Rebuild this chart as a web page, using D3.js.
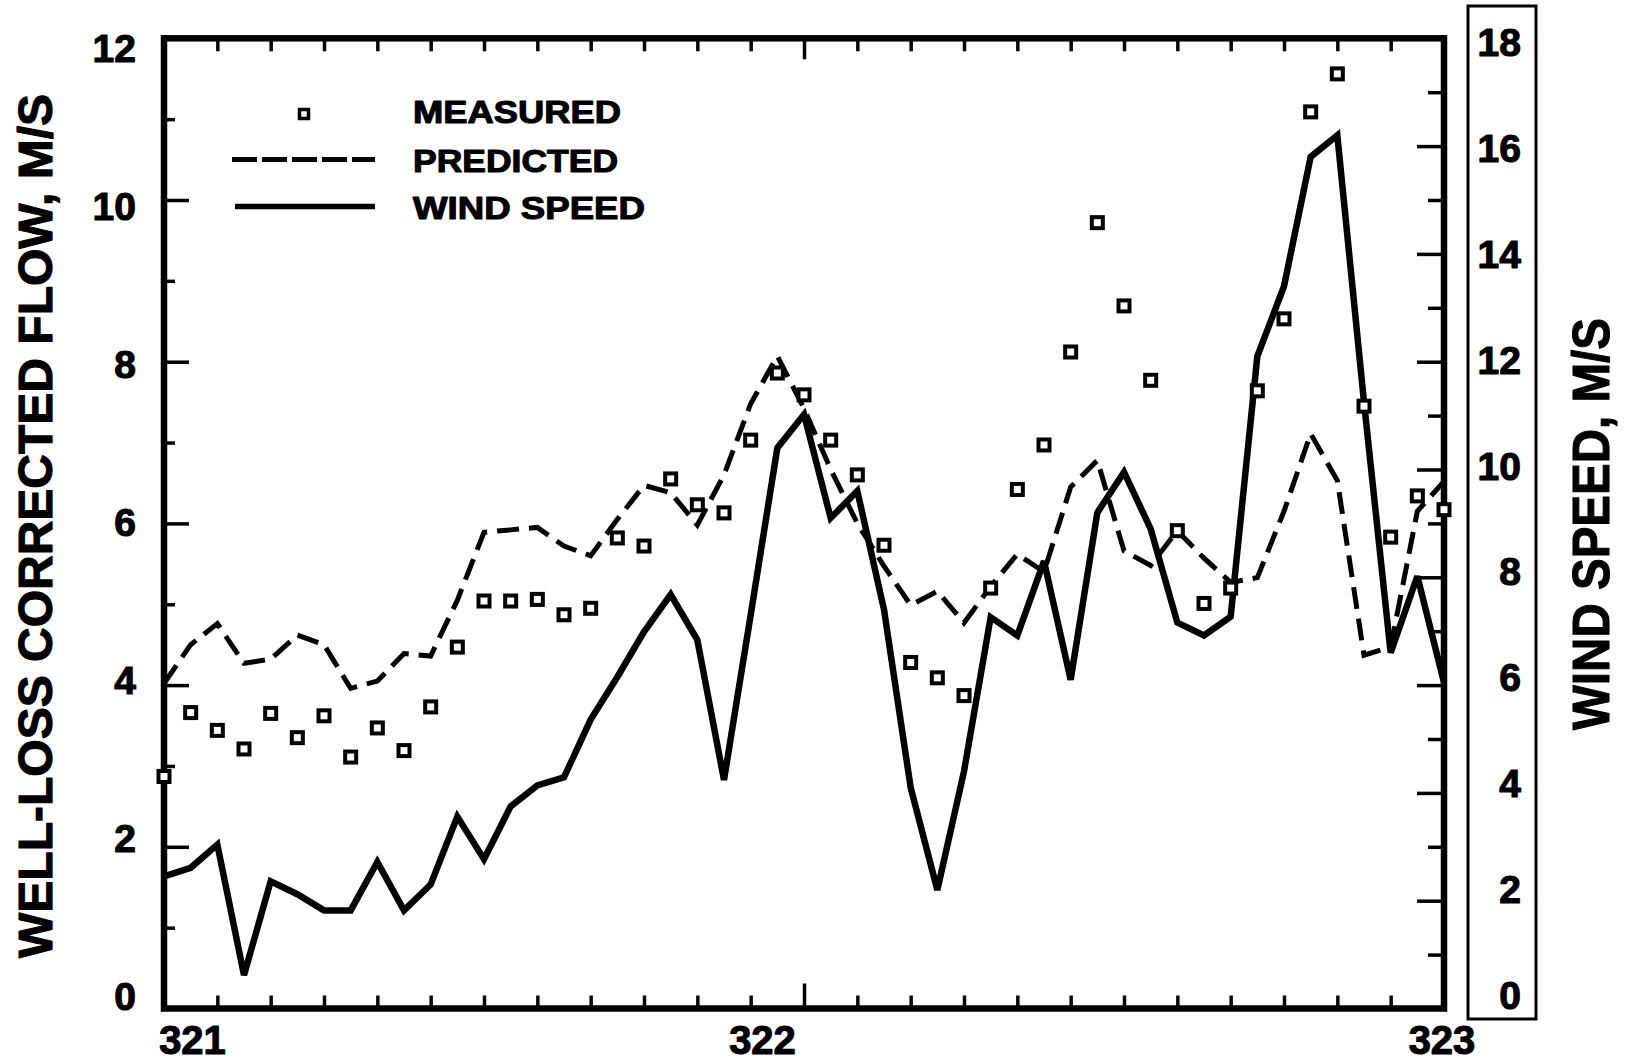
<!DOCTYPE html>
<html><head><meta charset="utf-8">
<script src="https://cdn.jsdelivr.net/npm/d3@7"></script>
<style>
html,body{margin:0;padding:0;background:#fff;}
svg{display:block;font-family:"Liberation Sans",Arial,Helvetica,sans-serif;font-weight:bold;}
</style></head><body>
<svg id="chart" width="1628" height="1064"></svg>
<script>
// ---- data (hourly, day 321.0 to 323.0) ----
const hourOfRecord = [0,1,2,3,4,5,6,7,8,9,10,11,12,13,14,15,16,17,18,19,20,21,22,23,24,
  25,26,27,28,29,30,31,32,33,34,35,36,37,38,39,40,41,42,43,44,45,46,47,48];
const measuredFlow = [2.87,3.66,3.44,3.21,3.65,3.35,3.62,3.11,3.47,3.19,3.73,4.47,5.04,5.04,5.06,
  4.87,4.95,5.82,5.72,6.55,6.23,6.13,7.03,7.86,7.59,7.03,6.60,5.73,4.28,4.09,3.87,5.20,6.42,6.97,
  8.12,9.72,8.69,7.77,5.91,5.01,5.20,7.64,8.53,11.09,11.56,7.45,5.83,6.34,6.17];
const predictedFlow = [4.02,4.50,4.76,4.27,4.32,4.62,4.50,3.96,4.05,4.39,4.36,5.05,5.89,5.92,5.95,
  5.72,5.60,6.05,6.47,6.38,5.98,6.60,7.48,8.07,7.42,6.67,6.00,5.47,4.99,5.16,4.77,5.22,5.62,5.40,
  6.45,6.78,5.66,5.48,5.91,5.57,5.27,5.33,6.15,7.11,6.53,4.37,4.47,6.15,6.52];
const windSpeed = [2.45,2.61,3.04,0.62,2.36,2.12,1.82,1.82,2.72,1.82,2.30,3.56,2.77,3.75,4.14,
  4.29,5.36,6.15,6.99,7.68,6.84,4.24,7.30,10.40,11.02,9.10,9.60,7.40,4.10,2.20,4.40,7.26,6.92,8.30,
  6.10,9.20,9.95,8.90,7.16,6.92,7.27,12.10,13.40,15.80,16.20,11.25,6.60,8.02,6.05];
const flowTickLabels = [0,2,4,6,8,10,12];
const windTickLabels = [0,2,4,6,8,10,12,14,16,18];
const dayTickLabels = [321,322,323];
const legendLabels = ["MEASURED","PREDICTED","WIND SPEED"];
const leftTitle = "WELL-LOSS CORRECTED FLOW, M/S";
const rightTitle = "WIND SPEED, M/S";

// ---- layout ----
const plot = {left:164, right:1444, top:38.3, bottom:1008.5};
const svg = d3.select("#chart");
svg.append("rect").attr("width",1628).attr("height",1064).attr("fill","#fff");

const x = d3.scaleLinear().domain([321,323]).range([plot.left, plot.right]);
const yFlow = d3.scaleLinear().domain([0,12]).range([plot.bottom, plot.top]);
const yWind = d3.scaleLinear().domain([0,18]).range([plot.bottom, plot.top]);
// label placement scales (labels in the original sit slightly off their ticks)
const yFlowLab = d3.scaleLinear().domain([0,12]).range([995, 47]);
const yWindLab = d3.scaleLinear().domain([0,18]).range([994, 41.8]);

const rows = hourOfRecord.map((h,i)=>({t:321+h/24, m:measuredFlow[i], p:predictedFlow[i], w:windSpeed[i]}));

function cleanTicks(g, lenFn, attr){
  g.select(".domain").remove();
  g.selectAll(".tick line").attr("stroke","#000").attr("stroke-width",3.5).attr(attr, lenFn);
}
const dayMinor = d3.range(1,24).map(k=>321+k/12);
const isMajorDay = d => Math.abs(d-322) < 1e-6;

// bottom ticks (pointing up)
svg.append("g").attr("transform",`translate(0,${plot.bottom})`)
  .call(d3.axisTop(x).tickValues(dayMinor).tickFormat("").tickSizeOuter(0))
  .call(g=>cleanTicks(g, d=> isMajorDay(d)? -25 : -13, "y2"));
// top ticks (pointing down)
svg.append("g").attr("transform",`translate(0,${plot.top})`)
  .call(d3.axisBottom(x).tickValues(dayMinor).tickFormat("").tickSizeOuter(0))
  .call(g=>cleanTicks(g, d=> isMajorDay(d)? 21 : 13, "y2"));
// left ticks (pointing right)
svg.append("g").attr("transform",`translate(${plot.left},0)`)
  .call(d3.axisRight(yFlow).tickValues(d3.range(1,12)).tickFormat("").tickSizeOuter(0))
  .call(g=>cleanTicks(g, d=> d%2===0? 25 : 11, "x2"));
// right ticks (pointing left)
svg.append("g").attr("transform",`translate(${plot.right},0)`)
  .call(d3.axisLeft(yWind).tickValues(d3.range(1,18)).tickFormat("").tickSizeOuter(0))
  .call(g=>cleanTicks(g, d=> d%2===0? -27 : -16, "x2"));

// frame
svg.append("rect").attr("x",plot.left).attr("y",plot.top)
  .attr("width",plot.right-plot.left).attr("height",plot.bottom-plot.top)
  .attr("fill","none").attr("stroke","#000").attr("stroke-width",6.5);
// right scale box
svg.append("rect").attr("x",1468).attr("y",6).attr("width",68).attr("height",1013)
  .attr("fill","none").attr("stroke","#000").attr("stroke-width",3);

// heavy text look
const heavy = sel => sel.attr("fill","#000").attr("stroke","#000").attr("stroke-width",1.1).attr("stroke-linejoin","round");

// tick labels
function styleLabels(g, size){
  g.select(".domain").remove();
  g.selectAll(".tick line").remove();
  g.selectAll(".tick text").attr("font-size",size).attr("font-weight","bold")
    .attr("font-family",null).attr("dy","0.36em").call(heavy);
}
svg.append("g").attr("transform","translate(139,0)")
  .call(d3.axisLeft(yFlowLab).tickValues(flowTickLabels).tickSize(0).tickPadding(3))
  .call(g=>styleLabels(g,39));
svg.append("g").attr("transform","translate(1524,0)")
  .call(d3.axisLeft(yWindLab).tickValues(windTickLabels).tickSize(0).tickPadding(3))
  .call(g=>styleLabels(g,39));
const dayLabelShift = [28,-42,-2.5];
svg.append("g").attr("transform","translate(0,1054)")
  .call(d3.axisBottom(x).tickValues(dayTickLabels).tickFormat(d3.format("d")).tickSize(0))
  .call(g=>{
    g.select(".domain").remove();
    g.selectAll(".tick line").remove();
    g.selectAll(".tick text").attr("y",0).attr("dy",0)
      .attr("dx",(d,i)=>dayLabelShift[i])
      .attr("font-size",40).attr("font-family",null).call(heavy);
  });

// axis titles
svg.append("text").attr("transform","translate(52,526) rotate(-90)")
  .attr("text-anchor","middle").attr("font-size",48).call(heavy).text(leftTitle);
svg.append("text").attr("transform","translate(1609,524) rotate(-90)")
  .attr("text-anchor","middle").attr("font-size",52).call(heavy)
  .attr("textLength",412).attr("lengthAdjust","spacingAndGlyphs").text(rightTitle);

// series
const predLine = d3.line().x(d=>x(d.t)).y(d=>yFlow(d.p));
const windLine = d3.line().x(d=>x(d.t)).y(d=>yWind(d.w));
svg.append("path").datum(rows).attr("d",predLine).attr("fill","none")
  .attr("stroke","#000").attr("stroke-width",5).attr("stroke-dasharray","22,10");
svg.append("path").datum(rows).attr("d",windLine).attr("fill","none")
  .attr("stroke","#000").attr("stroke-width",6.5).attr("stroke-linejoin","miter").attr("stroke-miterlimit",3);
const ms = 11;
svg.append("g").selectAll("rect").data(rows).join("rect")
  .attr("x",d=>x(d.t)-ms/2).attr("y",d=>yFlow(d.m)-ms/2)
  .attr("width",ms).attr("height",ms)
  .attr("fill","#fff").attr("stroke","#000").attr("stroke-width",4);

// legend
const lg = svg.append("g");
lg.append("rect").attr("x",304-4.5).attr("y",114-4.5).attr("width",9).attr("height",9)
  .attr("fill","#fff").attr("stroke","#000").attr("stroke-width",3.5);
lg.append("line").attr("x1",232).attr("x2",375).attr("y1",159.5).attr("y2",159.5)
  .attr("stroke","#000").attr("stroke-width",5).attr("stroke-dasharray","25,5");
lg.append("line").attr("x1",235).attr("x2",375).attr("y1",206.5).attr("y2",206.5)
  .attr("stroke","#000").attr("stroke-width",5.5);
const legendBase = [123.3,171.7,219.3];
const legendLen = [208,205,232];
lg.selectAll("text.lab").data(legendLabels).join("text").attr("class","lab")
  .attr("x",413).attr("y",(d,i)=>legendBase[i]).attr("font-size",32)
  .attr("textLength",(d,i)=>legendLen[i]).attr("lengthAdjust","spacingAndGlyphs")
  .call(heavy).text(d=>d);
</script>
</body></html>
